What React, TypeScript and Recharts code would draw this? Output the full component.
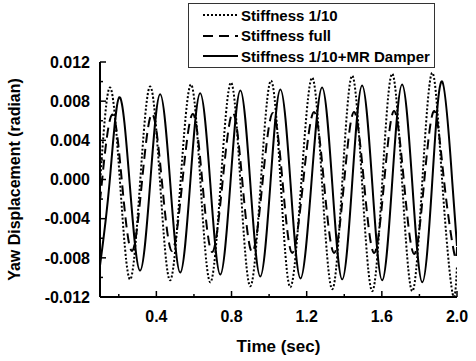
import { LineChart, Line, XAxis, YAxis, Legend } from 'recharts';

// Stiffness 1/10 (dotted)
const tenthTime = [0.1, 0.153, 0.207, 0.26, 0.313, 0.367, 0.42, 0.473, 0.528, 0.584, 0.635, 0.687, 0.742, 0.797, 0.848, 0.9, 0.955, 1.01, 1.062, 1.113, 1.171, 1.229, 1.282, 1.336, 1.389, 1.442, 1.495, 1.549, 1.602, 1.655, 1.708, 1.762, 1.815, 1.869, 1.922, 1.976, 2.0];
const tenthDisp = [-0.0004, 0.0094, -0.0004, -0.0102, -0.0004, 0.0095, -0.0004, -0.0103, -0.0004, 0.0097, -0.0004, -0.0105, -0.0005, 0.0099, -0.0005, -0.0109, -0.0005, 0.0101, -0.0005, -0.011, -0.0004, 0.0104, -0.0004, -0.0112, -0.0004, 0.0106, -0.0004, -0.0114, -0.0003, 0.0108, -0.0003, -0.0114, -0.0003, 0.0109, -0.0004, -0.0116, -0.0088];

// Stiffness full (dashed)
const fullTime = [0.1, 0.11, 0.163, 0.217, 0.27, 0.323, 0.377, 0.43, 0.483, 0.538, 0.594, 0.645, 0.697, 0.752, 0.807, 0.858, 0.91, 0.965, 1.02, 1.072, 1.123, 1.181, 1.239, 1.292, 1.346, 1.399, 1.452, 1.505, 1.559, 1.612, 1.665, 1.718, 1.772, 1.825, 1.879, 1.932, 1.986, 2.0];
const fullDisp = [-0.002, -0.0003, 0.0066, -0.0003, -0.0073, -0.0003, 0.0067, -0.0003, -0.0073, -0.0003, 0.0067, -0.0003, -0.0074, -0.0003, 0.0068, -0.0003, -0.0074, -0.0003, 0.0068, -0.0003, -0.0075, -0.0003, 0.0069, -0.0003, -0.0075, -0.0003, 0.0069, -0.0003, -0.0075, -0.0003, 0.007, -0.0003, -0.0076, -0.0003, 0.007, -0.0003, -0.0076, -0.0069];

// Stiffness 1/10 + MR damper (solid)
const damperTime = [0.1, 0.151, 0.203, 0.258, 0.313, 0.367, 0.42, 0.474, 0.527, 0.58, 0.633, 0.687, 0.74, 0.794, 0.847, 0.9, 0.953, 1.007, 1.06, 1.114, 1.167, 1.225, 1.282, 1.336, 1.389, 1.442, 1.495, 1.549, 1.602, 1.655, 1.708, 1.762, 1.815, 1.868, 1.921, 1.975, 2.0];
const damperDisp = [-0.0088, -0.0003, 0.0084, -0.0004, -0.0093, -0.0004, 0.0087, -0.0004, -0.0095, -0.0004, 0.0088, -0.0004, -0.0097, -0.0004, 0.0091, -0.0004, -0.0099, -0.0004, 0.0092, -0.0004, -0.0101, -0.0004, 0.0094, -0.0004, -0.0102, -0.0004, 0.0096, -0.0004, -0.0103, -0.0003, 0.0097, -0.0004, -0.0105, -0.0003, 0.01, -0.0003, -0.0068];

const seriesNames = ['Stiffness 1/10', 'Stiffness full', 'Stiffness 1/10+MR Damper'];
const seriesDash = ['2 2', '10 6', ''];

const xTicks = [0.2, 0.4, 0.6, 0.8, 1.0, 1.2, 1.4, 1.6, 1.8, 2.0];
const xLabels = ['', '0.4', '', '0.8', '', '1.2', '', '1.6', '', '2.0'];
const yTicks = [-0.012, -0.01, -0.008, -0.006, -0.004, -0.002, 0, 0.002, 0.004, 0.006, 0.008, 0.01, 0.012];
const yLabels = ['-0.012', '', '-0.008', '', '-0.004', '', '0.000', '', '0.004', '', '0.008', '', '0.012'];

const zip = (ts: number[], vs: number[]) => ts.map((t, i) => ({ t, v: vs[i] }));
const tenthData = zip(tenthTime, tenthDisp);
const fullData = zip(fullTime, fullDisp);
const damperData = zip(damperTime, damperDisp);

const FONT = '"Liberation Sans", Arial, sans-serif';

const XTick = (props: any) => {
  const { x, y, index } = props;
  const label = xLabels[index];
  const axisY = y - 8;
  return (
    <g>
      <line x1={x} x2={x} y1={axisY} y2={axisY - (label ? 6 : 3)} stroke="#000" strokeWidth={1.5} />
      {label && (
        <text x={x} y={y + 17} textAnchor="middle" fontFamily={FONT} fontWeight={700} fontSize={16} fill="#000">
          {label}
        </text>
      )}
    </g>
  );
};

const YTick = (props: any) => {
  const { x, y, index } = props;
  const label = yLabels[index];
  const axisX = x + 10;
  return (
    <g>
      <line x1={axisX} x2={axisX + (label ? 6 : 3)} y1={y} y2={y} stroke="#000" strokeWidth={1.5} />
      {label && (
        <text x={x} y={y} dy="0.36em" textAnchor="end" fontFamily={FONT} fontWeight={700} fontSize={16} fill="#000">
          {label}
        </text>
      )}
    </g>
  );
};

const LegendBox = () => (
  <div style={{ width: 245, height: 63, border: '1px solid #333', background: '#fff', fontFamily: FONT, fontWeight: 700, fontSize: 15, color: '#000' }}>
    {seriesNames.map((name, i) => (
      <div key={name} style={{ display: 'flex', alignItems: 'center', height: 20.5, marginTop: i === 0 ? 1 : 0 }}>
        <svg width={52} height={10}>
          <line x1={14} x2={49} y1={5} y2={5} stroke="#000" strokeWidth={2} strokeDasharray={seriesDash[i] || undefined} />
        </svg>
        <span>{name}</span>
      </div>
    ))}
  </div>
);

export default function App() {
  return (
    <div style={{ width: 476, height: 361, background: '#fff' }}>
      <style>{'body{margin:0}'}</style>
      <LineChart width={476} height={361} margin={{ top: 62, right: 19, bottom: 0, left: 0 }}>
        <XAxis
          dataKey="t"
          type="number"
          domain={[0.1, 2.0]}
          allowDataOverflow
          ticks={xTicks}
          interval={0}
          tickSize={0}
          tickMargin={8}
          height={64}
          axisLine={{ stroke: '#000', strokeWidth: 2 }}
          tickLine={false}
          tick={<XTick />}
          label={{ value: 'Time (sec)', position: 'insideBottom', offset: 9, style: { fontFamily: FONT, fontWeight: 700, fontSize: 17, fill: '#000' } }}
        />
        <XAxis xAxisId="top" orientation="top" type="number" domain={[0.1, 2.0]} height={0} tick={false} tickLine={false} axisLine={{ stroke: '#000', strokeWidth: 2 }} />
        <YAxis
          type="number"
          domain={[-0.012, 0.012]}
          allowDataOverflow
          ticks={yTicks}
          interval={0}
          tickSize={0}
          tickMargin={10}
          width={100}
          axisLine={{ stroke: '#000', strokeWidth: 2 }}
          tickLine={false}
          tick={<YTick />}
          label={{ value: 'Yaw Displacement (radian)', angle: -90, position: 'insideLeft', offset: 14, style: { textAnchor: 'middle', fontFamily: FONT, fontWeight: 700, fontSize: 16, fill: '#000' } }}
        />
        <YAxis yAxisId="right" orientation="right" type="number" domain={[-0.012, 0.012]} width={0} tick={false} tickLine={false} axisLine={{ stroke: '#000', strokeWidth: 2 }} />
        <Legend
          layout="horizontal"
          verticalAlign="middle"
          align="center"
          content={<LegendBox />}
          wrapperStyle={{ position: 'absolute', left: 188, top: 3, width: 247 }}
        />
        <Line data={fullData} dataKey="v" name={seriesNames[1]} type="natural" stroke="#000" strokeWidth={2} strokeDasharray={seriesDash[1]} dot={false} isAnimationActive={false} />
        <Line data={tenthData} dataKey="v" name={seriesNames[0]} type="natural" stroke="#000" strokeWidth={2} strokeDasharray={seriesDash[0]} dot={false} isAnimationActive={false} />
        <Line data={damperData} dataKey="v" name={seriesNames[2]} type="natural" stroke="#000" strokeWidth={2} dot={false} isAnimationActive={false} />
      </LineChart>
    </div>
  );
}
